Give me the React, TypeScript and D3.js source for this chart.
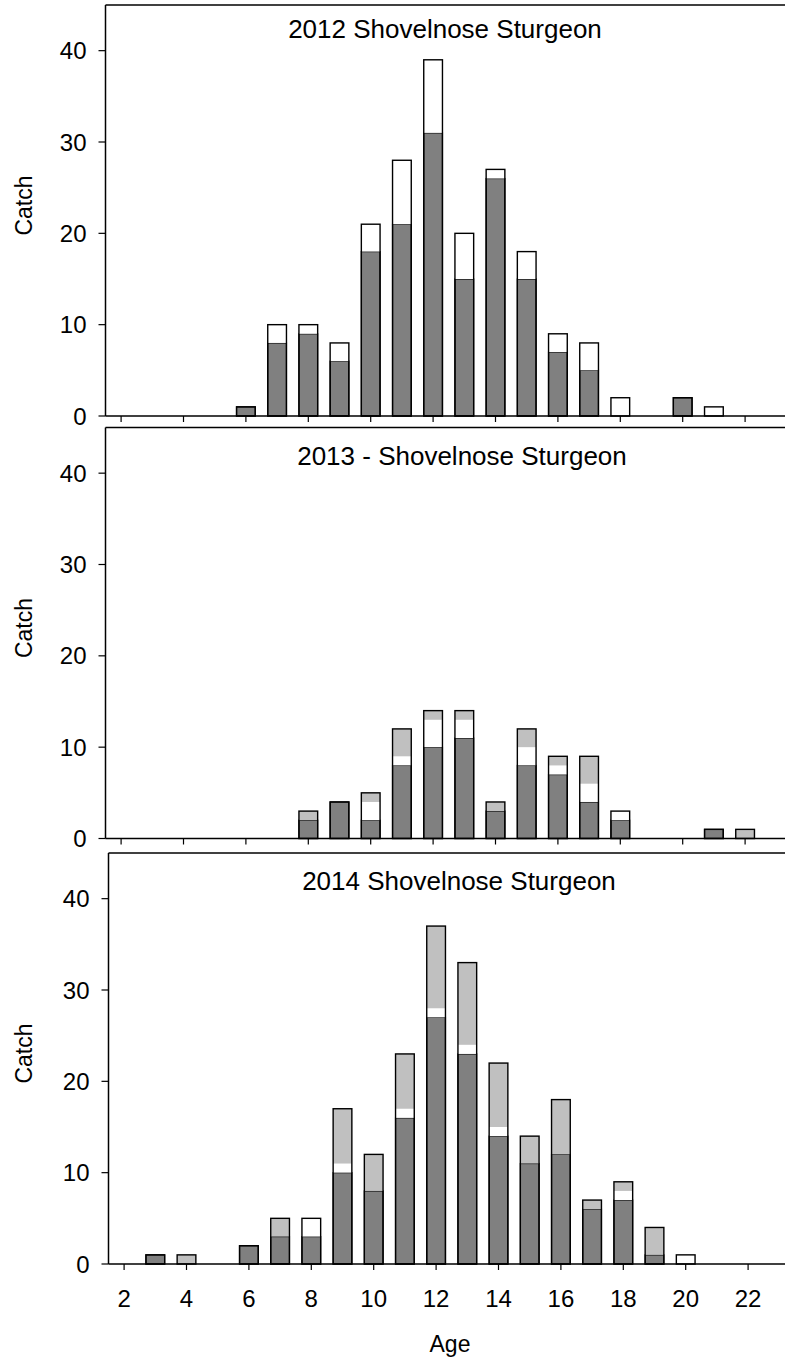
import React from "react";
import * as d3 from "d3";

// Age classes shared by all three years
const ages = [2, 3, 4, 5, 6, 7, 8, 9, 10, 11, 12, 13, 14, 15, 16, 17, 18, 19, 20, 21, 22];
const ageTicks = [2, 4, 6, 8, 10, 12, 14, 16, 18, 20, 22];
const catchTicks = [0, 10, 20, 30, 40];

// 2012 catch by age (stack: dark, white, light gray)
const dark2012 = [0, 0, 0, 0, 1, 8, 9, 6, 18, 21, 31, 15, 26, 15, 7, 5, 0, 0, 2, 0, 0];
const white2012 = [0, 0, 0, 0, 0, 2, 1, 2, 3, 7, 8, 5, 1, 3, 2, 3, 2, 0, 0, 1, 0];
const gray2012 = [0, 0, 0, 0, 0, 0, 0, 0, 0, 0, 0, 0, 0, 0, 0, 0, 0, 0, 0, 0, 0];

// 2013 catch by age
const dark2013 = [0, 0, 0, 0, 0, 0, 2, 4, 2, 8, 10, 11, 3, 8, 7, 4, 2, 0, 0, 1, 0];
const white2013 = [0, 0, 0, 0, 0, 0, 0, 0, 2, 1, 3, 2, 0, 2, 1, 2, 1, 0, 0, 0, 0];
const gray2013 = [0, 0, 0, 0, 0, 0, 1, 0, 1, 3, 1, 1, 1, 2, 1, 3, 0, 0, 0, 0, 1];

// 2014 catch by age
const dark2014 = [0, 1, 0, 0, 2, 3, 3, 10, 8, 16, 27, 23, 14, 11, 12, 6, 7, 1, 0, 0, 0];
const white2014 = [0, 0, 0, 0, 0, 0, 2, 1, 0, 1, 1, 1, 1, 0, 0, 0, 1, 0, 1, 0, 0];
const gray2014 = [0, 0, 1, 0, 0, 2, 0, 6, 4, 6, 9, 9, 7, 3, 6, 1, 1, 3, 0, 0, 0];

const titles = ["2012 Shovelnose Sturgeon", "2013 - Shovelnose Sturgeon", "2014 Shovelnose Sturgeon"];

const segmentKeys = ["dark", "white", "gray"];
const segmentFill: Record<string, string> = { dark: "#808080", white: "#ffffff", gray: "#c0c0c0" };

const FONT = "'Liberation Sans', Arial, Helvetica, sans-serif";
const W = 785;
const H = 1363;

const panels = [
  { title: titles[0], dark: dark2012, white: white2012, gray: gray2012, axisX: 105.5, top: 5, bottom: 416, titleX: 445, titleY: 38, showLabels: false },
  { title: titles[1], dark: dark2013, white: white2013, gray: gray2013, axisX: 105.5, top: 427.5, bottom: 838.5, titleX: 462, titleY: 465, showLabels: false },
  { title: titles[2], dark: dark2014, white: white2014, gray: gray2014, axisX: 108.5, top: 853, bottom: 1264, titleX: 459, titleY: 890, showLabels: true },
];

const UNIT = 31.2;

function Panel({ p }: { p: (typeof panels)[number] }) {
  const x = d3.scaleLinear().domain([1.5, 23.5]).range([p.axisX, p.axisX + 22 * UNIT]);
  const y = d3.scaleLinear().domain([0, 45]).range([p.bottom, p.top]);
  const barW = 0.6 * UNIT;

  const table = ages.map((age, i) => ({ age, dark: p.dark[i], white: p.white[i], gray: p.gray[i] }));
  const series = d3.stack<any>().keys(segmentKeys)(table);

  return (
    <g>
      {/* stacked segments */}
      {series.map((s) =>
        s.map((d, i) => {
          const v = d[1] - d[0];
          if (v <= 0) return null;
          const key = s.key;
          return (
            <rect
              key={`${key}-${i}`}
              x={x(ages[i]) - barW / 2}
              y={y(d[1])}
              width={barW}
              height={y(d[0]) - y(d[1])}
              fill={segmentFill[key]}
              stroke={key === "dark" ? "#000" : "none"}
              strokeWidth={1.2}
            />
          );
        })
      )}
      {/* bar outlines */}
      {table.map((d, i) => {
        const total = d.dark + d.white + d.gray;
        if (total <= 0) return null;
        return (
          <rect
            key={`o-${i}`}
            x={x(d.age) - barW / 2}
            y={y(total)}
            width={barW}
            height={y(0) - y(total)}
            fill="none"
            stroke="#000"
            strokeWidth={1.4}
          />
        );
      })}

      {/* frame: top line, left axis, baseline */}
      <line x1={p.axisX} x2={W + 10} y1={p.top} y2={p.top} stroke="#000" strokeWidth={1.5} />
      <line x1={p.axisX} x2={p.axisX} y1={p.top} y2={p.bottom} stroke="#000" strokeWidth={1.5} />
      <line x1={p.axisX} x2={W + 10} y1={p.bottom} y2={p.bottom} stroke="#000" strokeWidth={1.5} />

      {/* y ticks and labels */}
      {catchTicks.map((t) => (
        <g key={`yt-${t}`}>
          <line x1={p.axisX - 7} x2={p.axisX} y1={y(t)} y2={y(t)} stroke="#000" strokeWidth={1.2} />
          <text
            x={p.axisX - 19}
            y={y(t)}
            dy="0.36em"
            textAnchor="end"
            fontFamily={FONT}
            fontSize={24}
            fill="#000"
          >
            {t}
          </text>
        </g>
      ))}

      {/* x ticks */}
      {ageTicks.map((t) => (
        <g key={`xt-${t}`}>
          <line x1={x(t)} x2={x(t)} y1={p.bottom} y2={p.bottom + 6} stroke="#000" strokeWidth={1.2} />
          {p.showLabels && (
            <text x={x(t)} y={p.bottom + 43} textAnchor="middle" fontFamily={FONT} fontSize={24} fill="#000">
              {t}
            </text>
          )}
        </g>
      ))}

      {/* panel title */}
      <text x={p.titleX} y={p.titleY} textAnchor="middle" fontFamily={FONT} fontSize={26} fill="#000">
        {p.title}
      </text>

      {/* y axis title */}
      <text
        transform={`translate(24,${(p.top + p.bottom) / 2 - 5}) rotate(-90)`}
        dy="0.36em"
        textAnchor="middle"
        fontFamily={FONT}
        fontSize={23}
        fill="#000"
      >
        Catch
      </text>
    </g>
  );
}

export default function App() {
  return (
    <svg
      width={W}
      height={H}
      viewBox={`0 0 ${W} ${H}`}
      style={{ display: "block", position: "absolute", left: 0, top: 0, background: "#fff" }}
    >
      <rect x={0} y={0} width={W} height={H} fill="#fff" />
      {panels.map((p, i) => (
        <Panel key={i} p={p} />
      ))}
      <text x={450} y={1352} textAnchor="middle" fontFamily={FONT} fontSize={23} fill="#000">
        Age
      </text>
    </svg>
  );
}
